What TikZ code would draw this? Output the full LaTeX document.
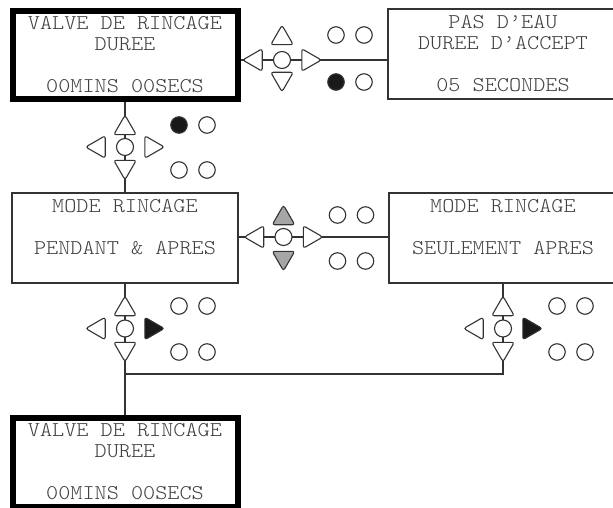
\documentclass[tikz,border=0pt]{standalone}
\usepackage{fontspec}
\usetikzlibrary{shapes.geometric}
\newfontfamily\lcdfont[FakeStretch=1.1]{Latin Modern Mono Light}
\pgfdeclarelayer{background}
\pgfsetlayers{background,main}
\newcommand{\lcdln}[1]{\rule[-3.2pt]{0pt}{17.8pt}#1}
\newcommand{\kpad}[9]{%
  \node[kc] (#1c) at (#2,#3) {};
  \node[kup,#6] (#1u) at (#2,#3-#4) {};
  \node[kdn,#6] (#1d) at (#2,#3+#5) {};
  \node[klt] (#1l) at (#2-29.5,#3) {};
  \node[krt,#7] (#1r) at (#2+29.5,#3) {};
  \node[kdot,#8] (#1a) at (#2+54,#3-#4) {};
  \node[kdot] (#1b) at (#2+82,#3-#4) {};
  \node[kdot,#9] (#1e) at (#2+54,#3+#5) {};
  \node[kdot] (#1f) at (#2+82,#3+#5) {};
}
\tikzset{
  lcd/.style={draw=black!80, line width=1.2pt, fill=white, inner sep=0pt,
    align=center, text=black!75, font=\lcdfont\fontsize{21}{21}\selectfont},
  lcdsel/.style={lcd, draw=black, line width=6pt},
  conn/.style={draw=black!80, line width=1.3pt},
  kbase/.style={draw=black!80, line width=1.1pt, fill=white, inner sep=0pt},
  kc/.style={kbase, circle, minimum size=17pt},
  kdot/.style={kbase, circle, minimum size=16.5pt},
  tri/.style={kbase, regular polygon, regular polygon sides=3, minimum size=26pt, rounded corners=2.5pt},
  kup/.style={tri, yshift=-3.2pt},
  kdn/.style={tri, shape border rotate=180, yshift=3.2pt},
  klt/.style={tri, shape border rotate=90, xshift=3.2pt},
  krt/.style={tri, shape border rotate=270, xshift=-3.2pt},
  kblack/.style={fill=black!90},
  kgray/.style={fill=black!35},
}
\begin{document}
\begin{tikzpicture}[x=1pt, y=-1pt]
\useasboundingbox (0,0) rectangle (613,508);

% boxes
\node[lcdsel, minimum width=225pt, minimum height=88.5pt] (b1) at (125,55.25)
  {\lcdln{VALVE DE RINCAGE}\\\lcdln{DUREE}\\\lcdln{}\\\lcdln{00MINS 00SECS}};
\node[lcd, minimum width=230pt, minimum height=90pt] (b2) at (503,54)
  {\lcdln{PAS D’EAU}\\\lcdln{DUREE D’ACCEPT}\\\lcdln{}\\\lcdln{05 SECONDES}};
\node[lcd, minimum width=226pt, minimum height=90pt] (b3) at (125,238)
  {\lcdln{MODE RINCAGE}\\\lcdln{}\\\lcdln{PENDANT \& APRES}\\\lcdln{}};
\node[lcd, minimum width=228pt, minimum height=90pt] (b4) at (503,238)
  {\lcdln{MODE RINCAGE}\\\lcdln{}\\\lcdln{SEULEMENT APRES}\\\lcdln{}};
\node[lcdsel, minimum width=225pt, minimum height=88.5pt] (b5) at (125,462.5)
  {\lcdln{VALVE DE RINCAGE}\\\lcdln{DUREE}\\\lcdln{}\\\lcdln{00MINS 00SECS}};

% keypads
\kpad{ka}{282}{60}{25}{22}{}{}{}{kblack}
\kpad{kb}{125}{147}{22}{23}{}{}{kblack}{}
\kpad{kc}{283.5}{237}{22}{24}{kgray}{}{}{}
\kpad{kd}{125}{328.5}{22.5}{23.5}{}{kblack}{}{}
\kpad{ke}{503}{328.5}{22.5}{23.5}{}{kblack}{}{}

\coordinate (j) at (125,374);

\begin{pgfonlayer}{background}
  \fill[white] (0,0) rectangle (613,508);
  \draw[conn] (b1.east |- kac) -- (b2.west |- kac);
  \draw[conn] (b1.south) -- (b3.north);
  \draw[conn] (b3.east |- kcc) -- (b4.west |- kcc);
  \draw[conn] (b3.south) -- (b5.north);
  \draw[conn] (b4.south) |- (j);
\end{pgfonlayer}
\end{tikzpicture}
\end{document}
